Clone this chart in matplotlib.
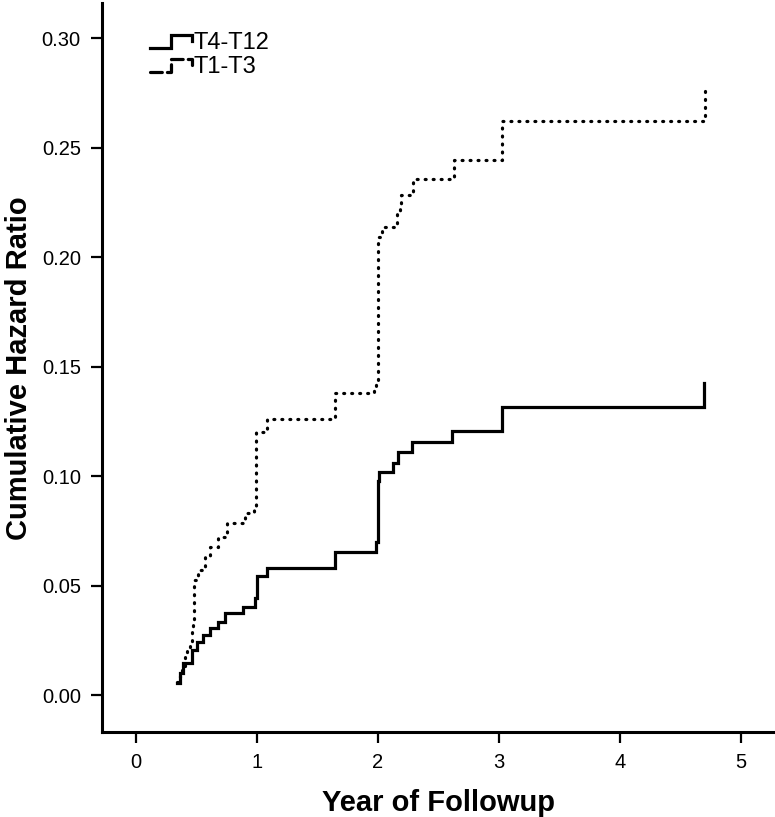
import numpy as np
import matplotlib.pyplot as plt
from matplotlib.legend_handler import HandlerBase
from matplotlib.lines import Line2D

plt.rcParams['font.family'] = ['Liberation Sans', 'DejaVu Sans']

# T4-T12 (solid) step points: year, cumulative hazard
t_lo = [0.339, 0.366, 0.393, 0.463, 0.504, 0.554, 0.614, 0.683, 0.738, 0.889,
        0.986, 1.000, 1.083, 1.647, 1.985, 2.000, 2.010, 2.129, 2.170, 2.281,
        2.612, 3.025, 4.697]
h_lo = [0.0056, 0.0099, 0.0145, 0.0205, 0.0243, 0.0274, 0.0305, 0.0335, 0.0373, 0.0403,
        0.0442, 0.0543, 0.0579, 0.0654, 0.0700, 0.0980, 0.1020, 0.1058, 0.1111, 0.1157,
        0.1207, 0.1316, 0.1425]

# T1-T3 (dotted)
t_hi = [0.339, 0.366, 0.380, 0.407, 0.421, 0.449, 0.463, 0.476, 0.484, 0.517,
        0.573, 0.614, 0.683, 0.752, 0.903, 0.975, 0.994, 1.083, 1.647, 1.964,
        1.985, 2.005, 2.033, 2.157, 2.184, 2.195, 2.294, 2.625, 3.025, 4.705]
h_hi = [0.0060, 0.0091, 0.0122, 0.0175, 0.0213, 0.0236, 0.0289, 0.0327, 0.0525, 0.0571,
        0.0632, 0.0677, 0.0723, 0.0787, 0.0831, 0.0854, 0.1202, 0.1259, 0.1378, 0.1410,
        0.1438, 0.2093, 0.2139, 0.2207, 0.2237, 0.2283, 0.2359, 0.2443, 0.2622, 0.2788]

xticks = [0, 1, 2, 3, 4, 5]
yticks = [0.00, 0.05, 0.10, 0.15, 0.20, 0.25, 0.30]


class StepHandler(HandlerBase):
    # little step shape in the legend, like the SPSS output
    def create_artists(self, legend, orig, xdescent, ydescent, width, height, fontsize, trans):
        x = np.array([0, 0.5, 0.5, 1.0, 1.0]) * width - xdescent
        y = np.array([0.05, 0.05, 0.85, 0.85, 0.45]) * height - ydescent
        ln = Line2D(x, y, color=orig.get_color(), lw=orig.get_linewidth(),
                    linestyle=orig.get_linestyle(), solid_joinstyle='miter',
                    dash_capstyle='round')
        ln.set_transform(trans)
        return [ln]


fig = plt.figure(figsize=(7.75, 8.17), dpi=100)
ax = fig.add_axes([0.1312, 0.1040, 0.8688, 0.8919])

l1, = ax.plot(t_lo, h_lo, drawstyle='steps-post', color='black', lw=2.3,
              solid_joinstyle='miter', label='T4-T12')
l2, = ax.plot(t_hi, h_hi, drawstyle='steps-post', color='black', lw=2.3,
              linestyle=(0, (0.3, 2.2)), dash_capstyle='round', label='T1-T3')

ax.set_xlim(-0.281, 5.28)
ax.set_ylim(-0.0169, 0.316)
ax.set_xticks(xticks)
ax.set_xticklabels([str(v) for v in xticks])
ax.set_yticks(yticks)
ax.set_yticklabels([f'{v:.2f}' for v in yticks])

for s in ['top', 'right']:
    ax.spines[s].set_visible(False)
for s in ['left', 'bottom']:
    ax.spines[s].set_linewidth(2.2)
ax.tick_params(direction='out', length=8, width=1.6, labelsize=14.5, pad=7)

ax.set_xlabel('Year of Followup', fontsize=21, fontweight='bold', labelpad=12)
ax.set_ylabel('Cumulative Hazard Ratio', fontsize=21, fontweight='bold', labelpad=6)

ax.legend(handles=[l1, l2], loc='upper left', bbox_to_anchor=(0.04, 0.99),
          frameon=False, fontsize=17, handlelength=1.8, handletextpad=0.05,
          labelspacing=0.08, handler_map={Line2D: StepHandler()})

plt.savefig('out.png', dpi=100)
